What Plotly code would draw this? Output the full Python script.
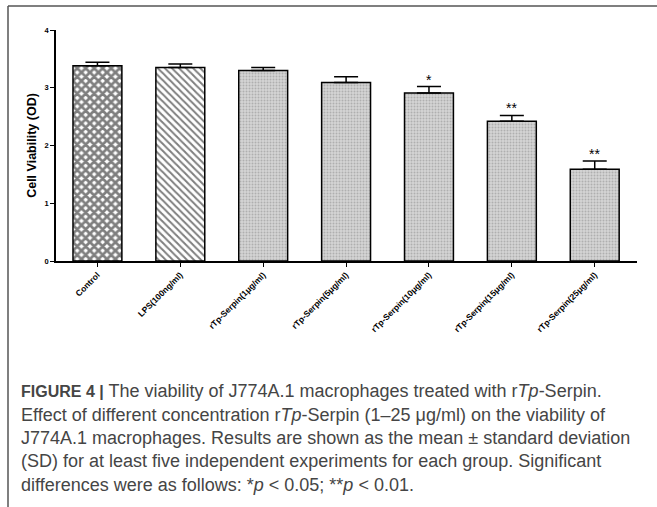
import plotly.graph_objects as go

categories = ["Control", "LPS(100ng/ml)", "rTp-Serpin(1μg/ml)", "rTp-Serpin(5μg/ml)",
              "rTp-Serpin(10μg/ml)", "rTp-Serpin(15μg/ml)", "rTp-Serpin(25μg/ml)"]
means = [3.38, 3.35, 3.30, 3.09, 2.91, 2.42, 1.59]
sds = [0.06, 0.06, 0.05, 0.10, 0.11, 0.10, 0.14]
signif = ["", "", "", "", "*", "**", "**"]
y_ticks = [0, 1, 2, 3, 4]

caption_lines = [
    "<span style='font-size:16px'><b>FIGURE 4 |</b></span> The viability of J774A.1 macrophages treated with r<i>Tp</i>-Serpin.",
    "Effect of different concentration r<i>Tp</i>-Serpin (1–25 μg/ml) on the viability of",
    "J774A.1 macrophages. Results are shown as the mean ± standard deviation",
    "(SD) for at least five independent experiments for each group. Significant",
    "differences were as follows: *<i>p</i> &lt; 0.05; **<i>p</i> &lt; 0.01.",
]

W, H = 657, 507
L, R, T, B = 56, 637, 30, 261
pw, ph = R - L, B - T

def px(x):
    return (x - L) / pw

def py(y):
    return (B - y) / ph

xs = list(range(len(categories)))
shapes_pat = ["x", "\\"] + ["."] * 5
sizes_pat = [6, 5] + [3] * 5
solid_pat = [0.7, 0.4] + [0.35] * 5
fg_pat = ["black", "black"] + ["#8a8a8a"] * 5
bg_pat = ["white", "white"] + ["#d4d4d4"] * 5

fig = go.Figure()
fig.add_trace(go.Bar(
    x=xs, y=means, width=0.59,
    marker=dict(color="white", line=dict(color="black", width=1.5),
                pattern=dict(shape=shapes_pat, size=sizes_pat, solidity=solid_pat,
                             fgcolor=fg_pat, bgcolor=bg_pat, fillmode="overlay")),
    error_y=dict(type="data", array=sds, arrayminus=[0] * len(sds), symmetric=False,
                 color="black", thickness=1.5, width=12),
    showlegend=False,
))

annotations = []
for i, (m, s, t) in enumerate(zip(means, sds, signif)):
    if t:
        annotations.append(dict(x=i, y=m + s, text=t, showarrow=False, xref="x", yref="y",
                                yanchor="bottom", yshift=-3,
                                font=dict(family="Liberation Sans, Arial", size=14, color="black")))

cap_y = [391, 415, 438, 461, 485]
for line, yy in zip(caption_lines, cap_y):
    annotations.append(dict(x=px(19), y=py(yy), xref="paper", yref="paper", text=line,
                            showarrow=False, xanchor="left", yanchor="middle",
                            font=dict(family="Liberation Sans, Arial", size=18, color="#454545")))

shapes = [
    dict(type="line", xref="paper", yref="paper", x0=px(8), x1=px(657), y0=py(6), y1=py(6),
         line=dict(color="#555555", width=1.5)),
    dict(type="line", xref="paper", yref="paper", x0=px(8), x1=px(8), y0=py(6), y1=py(507),
         line=dict(color="#555555", width=1.5)),
]

fig.update_layout(
    width=W, height=H,
    margin=dict(l=L, r=W - R, t=T, b=H - B, autoexpand=False),
    paper_bgcolor="white", plot_bgcolor="white",
    annotations=annotations, shapes=shapes,
)
fig.update_xaxes(
    range=[-0.5, 6.51], tickmode="array", tickvals=xs,
    ticktext=["<b>%s</b>" % c for c in categories], tickangle=-45,
    ticks="outside", ticklen=4, tickcolor="black", tickwidth=1.2,
    showline=True, linecolor="black", linewidth=1.5, showgrid=False, zeroline=False,
    tickfont=dict(family="Liberation Sans, Arial", size=8.5, color="black"),
)
fig.update_yaxes(
    range=[0, 4], tickmode="array", tickvals=y_ticks,
    ticktext=["<b>%d</b>" % v for v in y_ticks],
    ticks="outside", ticklen=4, tickcolor="black", tickwidth=1.2,
    showline=True, linecolor="black", linewidth=1.5, showgrid=False, zeroline=False,
    tickfont=dict(family="Liberation Sans, Arial", size=7.5, color="black"),
    title=dict(text="<b>Cell Viability (OD)</b>", standoff=5,
               font=dict(family="Liberation Sans, Arial", size=12.5, color="black")),
)

fig.write_html("out.html", config={"displayModeBar": False},
               post_script="document.body.style.margin='0';")
